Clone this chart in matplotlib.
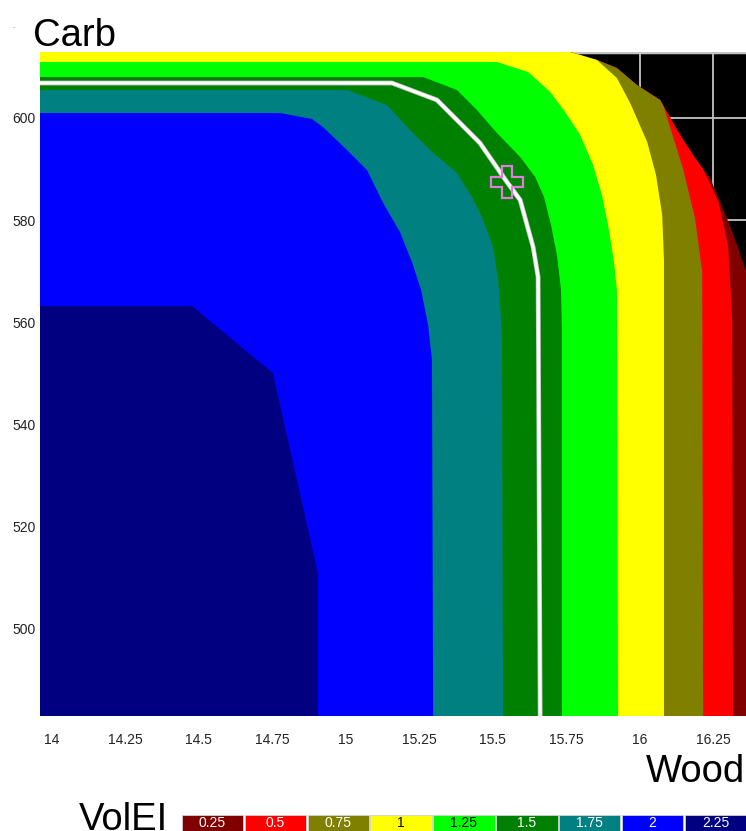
import numpy as np
import matplotlib.pyplot as plt
import matplotlib.patheffects as pe

plt.rcParams['font.family'] = ['Liberation Sans', 'DejaVu Sans']

# legend levels and band colours
levels = ['0.25', '0.5', '0.75', '1', '1.25', '1.5', '1.75', '2', '2.25']
band_colors = ['#800000', '#ff0000', '#808000', '#ffff00', '#00ff00',
               '#008000', '#008080', '#0000ff', '#000080']
label_colors = ['white', 'white', 'white', 'black', 'black',
                'white', 'white', 'white', 'white']

wood_ticks = [14, 14.25, 14.5, 14.75, 15, 15.25, 15.5, 15.75, 16, 16.25]
wood_labels = ['14', '14.25', '14.5', '14.75', '15', '15.25', '15.5', '15.75', '16', '16.25']
carb_ticks = [500, 520, 540, 560, 580, 600]

# outer edge of each colour band (Wood, Carb)
edge_025_w = [13.9, 15.74, 15.764, 15.855, 15.923, 15.991, 16.070, 16.138, 16.182,
              16.216, 16.240, 16.298, 16.332, 16.362, 16.45, 16.45]
edge_025_c = [613.5, 613.5, 612.94, 611.37, 609.80, 606.47, 603.53, 596.67, 592.75,
              590.0, 588.24, 580.20, 575.10, 569.80, 545, 482]

edge_050_w = [13.9, 16.20, 16.216, 16.267, 16.301, 16.315, 16.318]
edge_050_c = [613.5, 613.5, 590.0, 583.73, 575.10, 561.0, 482]

edge_075_w = [13.9, 16.06, 16.077, 16.148, 16.189, 16.213, 16.216]
edge_075_c = [613.5, 613.5, 603.14, 590.0, 580.2, 569.8, 482]

edge_100_w = [13.9, 15.84, 15.855, 15.923, 15.968, 16.026, 16.056, 16.077, 16.083, 16.083]
edge_100_c = [613.5, 613.5, 611.37, 607.84, 602.94, 595.29, 588.82, 580.98, 572.16, 482]

edge_125_w = [13.9, 15.515, 15.621, 15.696, 15.747, 15.798, 15.842, 15.872, 15.896,
              15.913, 15.923, 15.927]
edge_125_c = [610.98, 610.98, 609.02, 605.10, 601.18, 596.67, 590.78, 584.90, 578.04,
              571.76, 566.27, 482]

edge_150_w = [13.9, 15.264, 15.379, 15.447, 15.515, 15.594, 15.645, 15.675, 15.699,
              15.719, 15.733, 15.736, 15.736]
edge_150_c = [608.04, 608.04, 605.49, 601.57, 597.06, 592.35, 588.43, 584.51, 579.02,
              573.14, 566.27, 558.43, 482]

edge_175_w = [13.9, 15.005, 15.141, 15.219, 15.287, 15.379, 15.430, 15.464, 15.502,
              15.519, 15.532, 15.536]
edge_175_c = [605.49, 605.49, 602.55, 597.65, 593.73, 589.22, 584.51, 580.59, 574.71,
              568.24, 558.43, 482]

edge_200_w = [13.9, 14.777, 14.886, 14.923, 15.005, 15.073, 15.128, 15.185, 15.226,
              15.257, 15.281, 15.294, 15.298]
edge_200_c = [600.98, 600.98, 599.80, 598.24, 593.73, 589.80, 583.33, 577.65, 571.76,
              566.27, 559.41, 552.55, 482]

edge_225_w = [13.9, 14.478, 14.753, 14.906, 14.906]
edge_225_c = [563.14, 563.14, 550.0, 510.78, 482]

# white contour line and the selected point
line_w = [13.9, 15.158, 15.311, 15.457, 15.549, 15.594, 15.638, 15.655, 15.662]
line_c = [606.86, 606.86, 603.53, 595.10, 587.45, 583.92, 574.71, 568.82, 482.3]
point_w = 15.549
point_c = 587.45

edges = [(edge_025_w, edge_025_c), (edge_050_w, edge_050_c), (edge_075_w, edge_075_c),
         (edge_100_w, edge_100_c), (edge_125_w, edge_125_c), (edge_150_w, edge_150_c),
         (edge_175_w, edge_175_c), (edge_200_w, edge_200_c), (edge_225_w, edge_225_c)]

fig = plt.figure(figsize=(7.46, 8.31), dpi=100)
ax = fig.add_axes([40 / 746, 115 / 831, 706 / 746, 664 / 831])
ax.set_facecolor('black')
ax.set_axisbelow(True)
ax.grid(True, color='#c4c4c4', lw=1.3)
ax.axhline(612.94, color='#c4c4c4', lw=2.5, zorder=0.6)

base = None
for (ew, ec), col in zip(edges, band_colors):
    poly, = ax.fill(np.r_[ew, 13.9], np.r_[ec, 482], color=col, lw=0, zorder=1)
    if base is None:
        base = poly
    else:
        poly.set_clip_path(base)

ax.plot(line_w, line_c, color='white', lw=2.2, zorder=3, solid_joinstyle='round',
        path_effects=[pe.Stroke(linewidth=3.4, foreground='#c8c8c8'), pe.Normal()])
ax.plot(point_w, point_c, marker='P', ms=23, mfc='none', mec='#e07ee0', mew=1.6, zorder=4)

ax.set_xlim(13.961, 16.362)
ax.set_ylim(482.75, 612.94)
ax.set_xticks(wood_ticks)
ax.set_xticklabels(wood_labels)
ax.set_yticks(carb_ticks)
ax.tick_params(length=0, labelsize=10, labelcolor='#222222')
ax.tick_params(axis='x', pad=12)
ax.tick_params(axis='y', pad=3)
for s in ax.spines.values():
    s.set_visible(False)

fig.text(33 / 746, (831 - 46) / 831, 'Carb', fontsize=27.5, ha='left', va='baseline')
fig.text(745 / 746, (831 - 782) / 831, 'Wood', fontsize=27.5, ha='right', va='baseline')
fig.text(79 / 746, (831 - 830) / 831, 'VolEI', fontsize=27.5, ha='left', va='baseline')
fig.text(13 / 746, 1 - 28 / 831, '--', fontsize=4, color='#888888', va='center')

# colour key
lax = fig.add_axes([181 / 746, -10 / 831, 566 / 746, 26 / 831])
xs = np.arange(len(levels)) + 0.5
lax.bar(xs, np.ones(len(levels)), width=0.975, color=band_colors,
        edgecolor='#d0d0d0', lw=0.6)
for x, lab, tc in zip(xs, levels, label_colors):
    lax.text(x, 0.7, lab, color=tc, fontsize=10, ha='center', va='center')
lax.set_xlim(0, len(levels))
lax.set_ylim(0, 1)
lax.axis('off')

fig.savefig('out.png', dpi=100)
